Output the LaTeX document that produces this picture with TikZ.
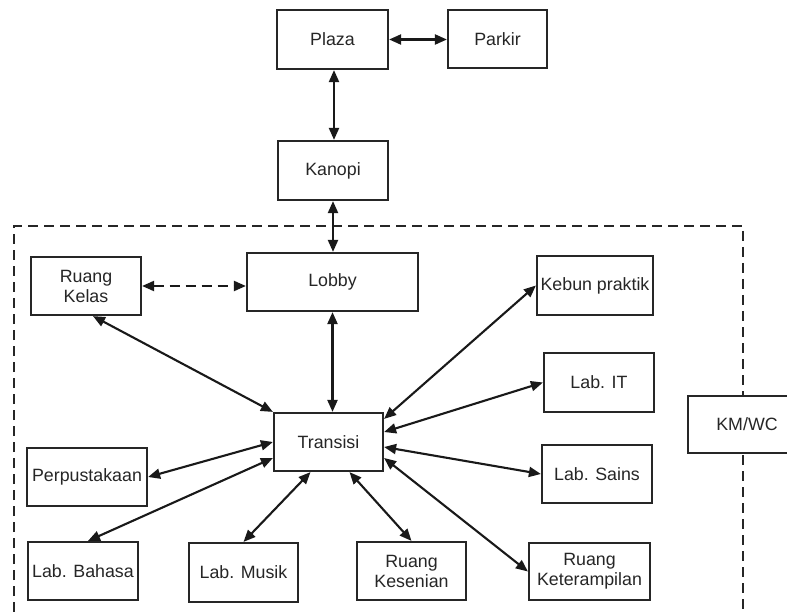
\documentclass[tikz,border=0pt]{standalone}
\usepackage{fontspec}
\setmainfont{Liberation Sans}
\usetikzlibrary{arrows.meta,calc}
\begin{document}
\begin{tikzpicture}[x=1pt,y=-1pt,
  room/.style={draw=black!85,line width=2.2pt,fill=white,inner sep=0pt,
    align=center,text=black!85,font=\fontsize{17.8}{20}\selectfont},
  link/.style={line width=2.1pt,draw=black!90,
    {Triangle[length=12pt,width=10pt]}-{Triangle[length=12pt,width=10pt]}},
  zone/.style={line width=2.2pt,draw=black!85,dash pattern=on 10pt off 6pt}]
\useasboundingbox (0,0) rectangle (787,612);
\clip (0,0) rectangle (787,612);
\fill[white] (0,0) rectangle (787,612);

% dashed boundary of the building zone
\draw[zone] (14,612) -- (14,226) -- (743,226) -- (743,612);

% spaces outside the building
\node[room,minimum width=111pt,minimum height=59pt] (plaza) at (332.5,39.5) {Plaza};
\node[room,minimum width=99pt,minimum height=58pt] (parkir) at (497.5,39) {Parkir};
\node[room,minimum width=110pt,minimum height=59pt] (kanopi) at (333,170.5) {Kanopi};

% spaces inside the building
\node[room,minimum width=171pt,minimum height=58pt] (lobby) at (332.5,282) {Lobby};
\node[room,minimum width=110pt,minimum height=58pt] (kelas) at (86,286) {Ruang\\Kelas};
\node[room,minimum width=116pt,minimum height=59pt] (kebun) at (595,285.5) {Kebun praktik};
\node[room,minimum width=110pt,minimum height=59pt] (it) at (599,382.5) {Lab. IT};
\node[room,minimum width=109pt,minimum height=58pt] (tr) at (328.5,442) {Transisi};
\node[room,minimum width=120pt,minimum height=58pt] (perpus) at (87,477) {Perpustakaan};
\node[room,minimum width=110pt,minimum height=58pt] (sains) at (597,474) {Lab. Sains};
\node[room,minimum width=110pt,minimum height=58pt] (bahasa) at (83,571) {Lab. Bahasa};
\node[room,minimum width=109pt,minimum height=59pt] (musik) at (243.5,572.5) {Lab. Musik};
\node[room,minimum width=109pt,minimum height=58pt] (seni) at (411.5,571) {Ruang\\Kesenian};
\node[room,minimum width=121pt,minimum height=57pt] (terampil) at (589.5,571.5) {Ruang\\Keterampilan};

% toilet block on the boundary
\node[room,minimum width=118pt,minimum height=57pt] (wc) at (747,424.5) {KM/WC};

% circulation links
\draw[link] (plaza.east) -- (plaza.east -| parkir.west);
\draw[link] ([xshift=1.5pt]plaza.south) -- ([xshift=1.5pt]plaza.south |- kanopi.north);
\draw[link] (kanopi.south) -- (kanopi.south |- lobby.north);
\draw[link] (lobby.south) -- (lobby.south |- tr.north);
\draw[link,dash pattern=on 10pt off 6pt] (kelas.east) -- (kelas.east -| lobby.west);
\draw[link] ($(kelas.south)+(7,0)$) -- (tr.north west);
\draw[link] (perpus.east) -- (tr.west);
\draw[link] ($(bahasa.north)+(5,0)$) -- ($(tr.west)+(0,16)$);
\draw[link] (musik.north) -- ($(tr.south)+(-18,0)$);
\draw[link] (seni.north) -- ($(tr.south)+(21,0)$);
\draw[link] (kebun.west) -- ($(tr.north east)+(0,7)$);
\draw[link] (it.west) -- ($(tr.east)+(0,-10)$);
\draw[link] (sains.west) -- ($(tr.east)+(0,5)$);
\draw[link] (terampil.west) -- ($(tr.east)+(0,16)$);
\end{tikzpicture}
\end{document}
